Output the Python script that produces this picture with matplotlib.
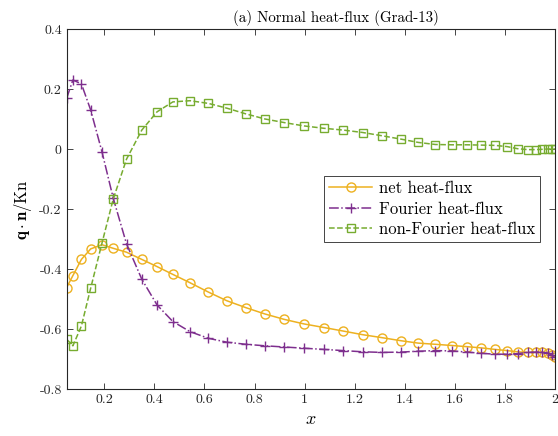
import matplotlib
matplotlib.use("Agg")
import matplotlib.pyplot as plt
import numpy as np

plt.rcParams['font.family'] = 'serif'
plt.rcParams['font.serif'] = ['cmr10']
plt.rcParams['mathtext.fontset'] = 'cm'
plt.rcParams['axes.unicode_minus'] = False
plt.rcParams['axes.formatter.use_mathtext'] = True

# data
x = [0.05, 0.075, 0.109, 0.146, 0.191, 0.236, 0.289, 0.350, 0.411, 0.474,
     0.543, 0.616, 0.690, 0.766, 0.842, 0.919, 0.997, 1.077, 1.155, 1.232,
     1.310, 1.384, 1.453, 1.522, 1.588, 1.649, 1.706, 1.760, 1.808, 1.850,
     1.890, 1.923, 1.949, 1.972, 1.989, 2.0]

net_flux = [-0.461, -0.421, -0.367, -0.332, -0.318, -0.330, -0.343, -0.367, -0.391, -0.417,
            -0.445, -0.476, -0.505, -0.528, -0.549, -0.567, -0.582, -0.594, -0.606, -0.618,
            -0.628, -0.638, -0.646, -0.650, -0.654, -0.658, -0.662, -0.667, -0.671, -0.675,
            -0.677, -0.677, -0.676, -0.679, -0.686, -0.692]

fourier_flux = [0.170, 0.231, 0.218, 0.131, -0.008, -0.163, -0.315, -0.433, -0.519, -0.574,
                -0.608, -0.630, -0.643, -0.650, -0.655, -0.659, -0.663, -0.667, -0.671, -0.675,
                -0.677, -0.676, -0.673, -0.671, -0.672, -0.676, -0.680, -0.683, -0.683, -0.681,
                -0.677, -0.676, -0.676, -0.680, -0.687, -0.693]

nonfourier_flux = [-0.633, -0.655, -0.589, -0.463, -0.313, -0.166, -0.033, 0.064, 0.125, 0.158,
                   0.162, 0.153, 0.137, 0.118, 0.101, 0.089, 0.078, 0.070, 0.064, 0.056,
                   0.045, 0.034, 0.023, 0.016, 0.015, 0.015, 0.014, 0.013, 0.009, 0.002,
                   -0.001, -0.001, 0.000, 0.001, 0.001, 0.001]

xticks = [0.2, 0.4, 0.6, 0.8, 1.0, 1.2, 1.4, 1.6, 1.8, 2.0]
xticklabels = ['0.2', '0.4', '0.6', '0.8', '1', '1.2', '1.4', '1.6', '1.8', '2']
yticks = [-0.8, -0.6, -0.4, -0.2, 0.0, 0.2, 0.4]
yticklabels = ['-0.8', '-0.6', '-0.4', '-0.2', '0', '0.2', '0.4']

c_net = '#EDB120'
c_four = '#7E2F8E'
c_nonf = '#77AC30'

fig = plt.figure(figsize=(5.58, 4.36), dpi=100)
ax = fig.add_axes([0.1194, 0.1071, 0.8755, 0.8257])

ax.plot(x, net_flux, '-', color=c_net, marker='o', mfc='none', ms=6.5, mew=1.0,
        lw=1.1, label='net heat-flux')
ax.plot(x, fourier_flux, '-.', color=c_four, marker='+', ms=7.5, mew=1.0,
        lw=1.1, label='Fourier heat-flux')
ax.plot(x, nonfourier_flux, '--', color=c_nonf, marker='s', mfc='none', ms=5.5, mew=1.0,
        lw=1.1, label='non-Fourier heat-flux')

ax.set_xlim(0.05, 2.0)
ax.set_ylim(-0.8, 0.4)
ax.set_xticks(xticks)
ax.set_xticklabels(xticklabels)
ax.set_yticks(yticks)
ax.set_yticklabels(yticklabels)
ax.tick_params(direction='in', top=True, right=True, length=4, width=0.6,
               labelsize=10, colors='#262626')
for s in ax.spines.values():
    s.set_linewidth(0.8)
    s.set_color('#262626')

ax.set_xlabel('$x$', fontsize=13)
ax.set_ylabel(r'$\mathbf{q}\cdot\mathbf{n}/\mathrm{Kn}$', fontsize=12)
ax.set_title('(a) Normal heat-flux (Grad-13)', fontsize=10.8, x=0.552, pad=5)

leg = ax.legend(loc='upper left', bbox_to_anchor=(0.527, 0.5925), fontsize=12,
                handlelength=2.6, fancybox=False, framealpha=1, edgecolor='#262626',
                borderpad=0.3, labelspacing=0.3, handletextpad=0.4, borderaxespad=0)
leg.get_frame().set_linewidth(0.6)

fig.savefig('out.png', dpi=100)
